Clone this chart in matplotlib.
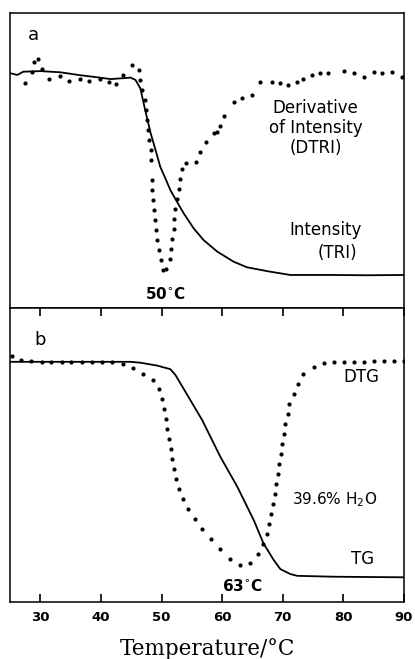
import matplotlib

matplotlib.use("Agg")
import matplotlib.pyplot as plt

# Panel a: thermo-Raman intensity (TRI) and its derivative (DTRI), arb. units
tri_temp = [25.0, 26.2, 27.2, 30.0, 33.3, 36.6, 39.4, 41.6, 43.7, 44.9, 45.7,
            46.5, 47.3, 48.2, 49.0, 49.8, 50.6, 51.45, 52.55, 53.65, 55.3,
            56.9, 59.2, 61.9, 64.1, 67.7, 71.25, 78.4, 83.9, 90.0]
tri_val = [79.6, 79.0, 80.1, 80.3, 79.9, 78.9, 78.2, 77.6, 77.9, 78.1, 77.3,
           74.5, 67.1, 59.3, 53.6, 47.8, 44.1, 40.0, 36.0, 32.1, 27.0,
           23.1, 19.1, 15.7, 13.8, 12.4, 11.2, 11.2, 11.1, 11.2]

dtri_temp = [27.4, 28.6, 29.0, 29.6, 30.3, 31.5, 33.2, 34.8, 36.5, 38.1, 39.8,
             41.3, 42.5, 43.7, 45.1, 46.3, 46.5, 46.8, 47.2, 47.4, 47.6, 47.8,
             47.9, 48.2, 48.3, 48.4, 48.5, 48.65, 48.8, 49.0, 49.1, 49.3, 49.6,
             49.85, 50.2, 50.7, 51.4, 51.6, 51.8, 52.0, 52.1, 52.3, 52.6, 52.8,
             53.1, 53.3, 54.1, 55.7, 56.4, 57.3, 58.6, 59.2, 59.7, 60.3, 62.0,
             63.3, 65.0, 66.3, 68.2, 69.6, 70.9, 72.4, 73.4, 74.8, 76.2, 77.5,
             80.05, 81.7, 83.35, 85.0, 86.4, 88.0, 89.7]
dtri_val = [76.4, 80.0, 83.3, 84.4, 80.9, 77.6, 78.7, 76.8, 77.7, 76.8, 77.6,
            76.5, 75.8, 78.9, 82.3, 80.8, 77.3, 73.9, 70.5, 67.1, 63.7, 60.3,
            56.9, 53.6, 50.2, 43.4, 40.0, 36.6, 33.2, 29.8, 26.4, 23.1, 19.7,
            16.3, 12.9, 13.1, 16.5, 19.9, 23.3, 26.7, 30.1, 33.5, 36.9, 40.3,
            43.7, 47.1, 49.0, 49.5, 53.0, 56.2, 59.3, 59.8, 61.8, 65.2, 69.9,
            71.1, 72.2, 76.7, 76.7, 76.1, 75.6, 76.7, 77.5, 79.0, 79.6, 79.8,
            80.3, 79.6, 78.4, 80.1, 79.6, 80.1, 78.4]

# Panel b: thermogravimetry (TG) and its derivative (DTG), arb. units
tg_temp = [25.0, 44.9, 46.5, 49.3, 51.45, 52.3, 56.7, 59.7, 62.5, 65.2, 66.8,
           68.5, 69.6, 71.25, 72.4, 78.4, 83.9, 90.0]
tg_val = [81.7, 81.7, 81.4, 80.4, 79.2, 77.2, 61.9, 49.4, 39.2, 27.9, 20.0,
          14.3, 11.2, 9.5, 8.9, 8.6, 8.5, 8.4]

dtg_temp = [25.3, 26.8, 28.5, 30.2, 31.8, 33.5, 35.1, 36.9, 38.5, 40.2, 41.9,
            43.6, 45.3, 46.9, 48.6, 49.5, 50.0, 50.35, 50.7, 50.9, 51.2, 51.5,
            51.8, 52.1, 52.4, 52.9, 53.5, 54.4, 55.5, 56.7, 58.2, 59.7, 61.35,
            63.0, 64.65, 65.9, 66.75, 67.4, 67.7, 68.1, 68.4, 68.8, 68.9, 69.2,
            69.4, 69.7, 69.9, 70.15, 70.4, 70.8, 71.1, 71.8, 72.5, 73.4, 75.1,
            76.75, 78.4, 80.05, 81.7, 83.35, 85.0, 86.7, 88.3, 90.0]
dtg_val = [83.7, 82.3, 82.1, 81.8, 81.8, 81.8, 81.7, 81.7, 81.7, 81.7, 81.6,
           81.0, 79.5, 77.6, 75.5, 72.4, 69.0, 65.5, 62.1, 58.7, 55.3, 51.9,
           48.5, 45.1, 41.7, 38.3, 34.9, 31.5, 28.1, 24.7, 21.3, 17.9, 14.5,
           12.6, 13.2, 16.2, 19.6, 23.0, 26.4, 29.8, 33.2, 36.6, 40.0, 43.4,
           46.8, 50.2, 53.6, 57.0, 60.4, 63.8, 67.3, 70.7, 74.1, 77.6, 80.0,
           81.4, 81.7, 81.8, 81.8, 81.8, 81.9, 81.9, 81.9, 82.0]

x_ticks = [30, 40, 50, 60, 70, 80, 90]

LABEL_FONT = {"family": "DejaVu Sans", "size": 12}
PEAK_FONT = {"family": "DejaVu Sans", "size": 11, "weight": "bold"}

fig = plt.figure(figsize=(4.15, 6.59), dpi=100)
ax_a = fig.add_axes([0.0241, 0.5326, 0.9494, 0.4477])
ax_b = fig.add_axes([0.0241, 0.0865, 0.9494, 0.4461])

for ax in (ax_a, ax_b):
    ax.set_xlim(25, 90)
    ax.set_ylim(0, 100)
    ax.set_yticks([])
    for sp in ax.spines.values():
        sp.set_linewidth(1.1)

# panel a
ax_a.plot(tri_temp, tri_val, color="black", lw=1.3)
ax_a.plot(dtri_temp, dtri_val, ls="none", marker="o", ms=2.0, color="black")
ax_a.set_xticks([])
ax_a.text(28.85, 92.5, "a", fontsize=13, ha="center", va="center")
ax_a.text(75.4, 61.0, "Derivative\nof Intensity\n(DTRI)", ha="center",
          va="center", multialignment="center", linespacing=1.15, **LABEL_FONT)
ax_a.text(77.1, 26.4, "Intensity", ha="center", va="center", **LABEL_FONT)
ax_a.text(79.0, 18.6, "(TRI)", ha="center", va="center", **LABEL_FONT)
ax_a.text(50.6, 4.7, "50$^{\\circ}$C", ha="center", va="center", **PEAK_FONT)

# panel b, ticks pointing inward on both the top and bottom spines
ax_b.plot(tg_temp, tg_val, color="black", lw=1.3)
ax_b.plot(dtg_temp, dtg_val, ls="none", marker="o", ms=2.0, color="black")
ax_b.set_xticks(x_ticks)
ax_b.xaxis.set_ticks_position("both")
ax_b.tick_params(axis="x", direction="in", length=5.5, width=1.2, pad=6.5)
for lab in ax_b.get_xticklabels():
    lab.set_fontweight("bold")
    lab.set_fontsize(9.5)
ax_b.text(30.0, 89.1, "b", fontsize=13, ha="center", va="center")
ax_b.text(83.0, 76.5, "DTG", ha="center", va="center", **LABEL_FONT)
ax_b.text(83.1, 14.5, "TG", ha="center", va="center", **LABEL_FONT)
ax_b.text(78.6, 34.7, "39.6% H$_2$O", ha="center", va="center",
          family="DejaVu Sans", size=11)
ax_b.text(63.4, 5.5, "63$^{\\circ}$C", ha="center", va="center", **PEAK_FONT)
ax_b.set_xlabel("Temperature/°C", family="DejaVu Serif", fontsize=15.5,
                labelpad=10)

fig.savefig("out.png", dpi=100)
